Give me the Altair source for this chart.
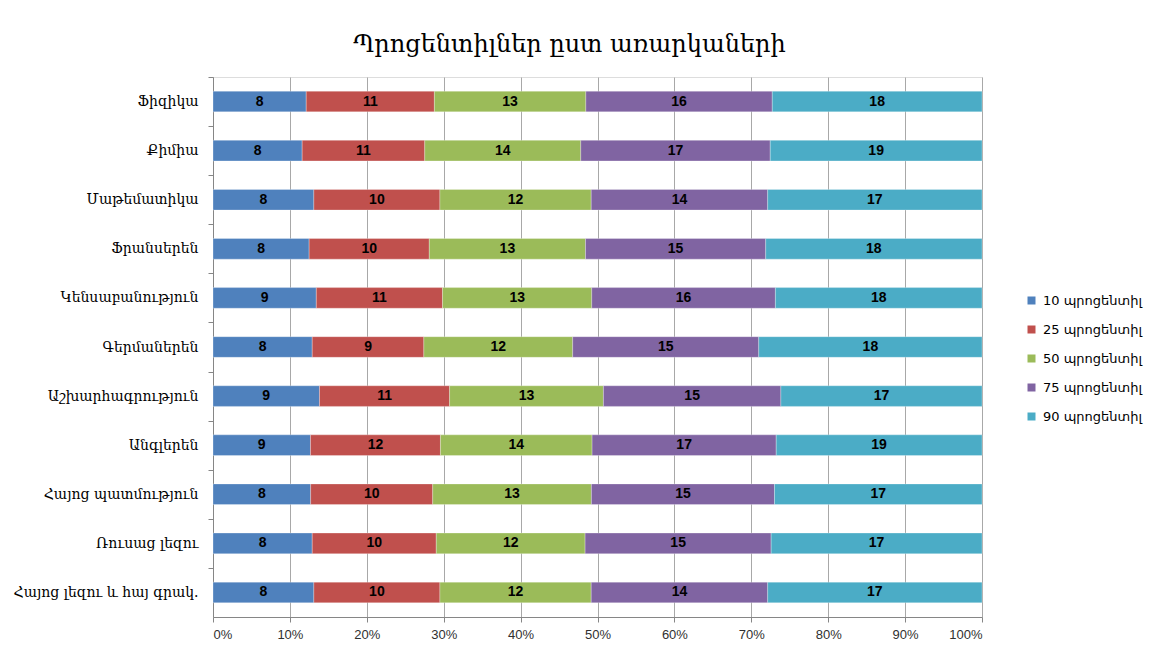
import altair as alt
import pandas as pd

subjects = [
    "Ֆիզիկա", "Քիմիա", "Մաթեմատիկա", "Ֆրանսերեն", "Կենսաբանություն",
    "Գերմաներեն", "Աշխարհագրություն", "Անգլերեն", "Հայոց պատմություն",
    "Ռուսաց լեզու", "Հայոց լեզու և հայ գրակ.",
]
series = ["10 պրոցենտիլ", "25 պրոցենտիլ", "50 պրոցենտիլ", "75 պրոցենտիլ", "90 պրոցենտիլ"]
p10 = [8, 8, 8, 8, 9, 8, 9, 9, 8, 8, 8]
p25 = [11, 11, 10, 10, 11, 9, 11, 12, 10, 10, 10]
p50 = [13, 14, 12, 13, 13, 12, 13, 14, 13, 12, 12]
p75 = [16, 17, 14, 15, 16, 15, 15, 17, 15, 15, 14]
p90 = [18, 19, 17, 18, 18, 18, 17, 19, 17, 17, 17]
colors = ["#4F81BD", "#C0504D", "#9BBB59", "#8064A2", "#4BACC6"]
title_text = "Պրոցենտիլներ ըստ առարկաների"

rows = []
for i, s in enumerate(subjects):
    for k, vals in enumerate([p10, p25, p50, p75, p90]):
        rows.append({"subject": s, "series": series[k], "order": k, "value": vals[i]})
df = pd.DataFrame(rows)

armen_font = "DejaVu Serif"
plot_h = 540
half_step = plot_h / len(subjects) / 2

base = alt.Chart(df).transform_stack(
    stack="value", groupby=["subject"], as_=["v0", "v1"], offset="normalize",
    sort=[alt.SortField("order", order="ascending")],
).transform_calculate(mid="(datum.v0 + datum.v1) / 2")

y_enc = alt.Y(
    "subject:N", sort=subjects, title=None,
    scale=alt.Scale(paddingInner=0.58, paddingOuter=0.29),
    axis=alt.Axis(
        tickOffset=-half_step, labelOffset=half_step, tickSize=5, labelPadding=10,
        domainColor="#868686", tickColor="#868686", labelFont=armen_font,
        labelFontSize=14, labelColor="#000000", grid=False, labelLimit=300,
    ),
)

bars = base.mark_bar(stroke="#FFFFFF", strokeOpacity=0.35, strokeWidth=0.8).encode(
    x=alt.X(
        "v0:Q", title=None,
        scale=alt.Scale(domain=[0, 1], nice=False),
        axis=alt.Axis(
            format="%", values=[i / 10 for i in range(11)], tickSize=5,
            labelPadding=6, grid=True, gridColor="#A8A8A8", domainColor="#868686",
            tickColor="#868686", labelFont="Liberation Sans", labelFontSize=13,
            labelColor="#303030",
        ),
    ),
    x2="v1:Q",
    y=y_enc,
    color=alt.Color(
        "series:N",
        scale=alt.Scale(domain=series, range=colors),
        legend=alt.Legend(
            title=None, orient="none", legendX=812, legendY=217,
            symbolType="square", symbolSize=64, symbolStrokeWidth=0,
            labelFont="DejaVu Sans", labelFontSize=13, labelColor="#000000",
            rowPadding=15, labelOffset=5,
        ),
    ),
)

labels = base.mark_text(
    font="Liberation Sans", fontWeight="bold", fontSize=14, color="#000000",
    baseline="middle",
).encode(
    x="mid:Q",
    y=alt.Y("subject:N", sort=subjects),
    text="value:Q",
)

chart = (
    alt.layer(bars, labels)
    .properties(
        width=769, height=plot_h,
        padding={"left": 205, "top": 69, "right": 170, "bottom": 24},
        autosize="none",
        title=alt.TitleParams(
            title_text, font=armen_font, fontSize=24, fontWeight="normal",
            color="#000000", offset=20, dx=-28, anchor="middle",
        ),
    )
    .configure_view(stroke=None)
    .configure(background="#FFFFFF")
)

chart.save("out.html", embed_options={"renderer": "svg", "actions": False})
